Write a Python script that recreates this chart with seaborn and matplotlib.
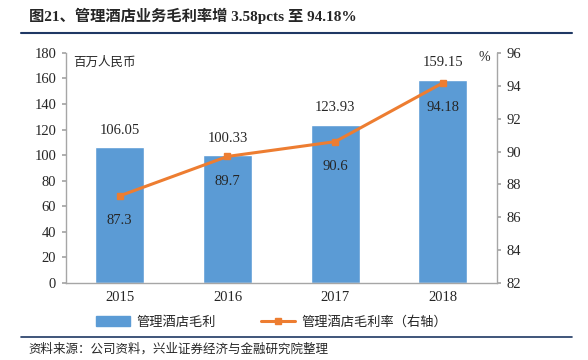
import numpy as np
import pandas as pd
import matplotlib
matplotlib.use("Agg")
import matplotlib.pyplot as plt
import seaborn as sns
from matplotlib.lines import Line2D
from matplotlib.patches import Patch

# 数据
years = ["2015", "2016", "2017", "2018"]
gross_profit = [106.05, 100.33, 123.93, 159.15]   # 百万人民币
margin = [87.3, 89.7, 90.6, 94.18]                # %

sns.set_theme(style="white")
plt.rcParams['font.family'] = ['Liberation Serif', 'Noto Sans CJK SC', 'DejaVu Sans']

bar_color = "#5B9BD5"
line_color = "#ED7D31"
axis_gray = "#A6A6A6"
navy = "#1F3864"

df = pd.DataFrame({"年份": years, "毛利": gross_profit, "毛利率": margin})

fig = plt.figure(figsize=(5.88, 3.6), dpi=100)
ax = fig.add_axes([0.112, 0.214, 0.733, 0.639])

sns.barplot(data=df, x="年份", y="毛利", color=bar_color, width=0.455,
            saturation=1, ax=ax)
ax.set_xlim(-0.5, 3.5)
ax.set_ylim(0, 180)
ax.set_yticks(np.arange(0, 181, 20))
ax.set_xlabel("")
ax.set_ylabel("")
for i, v in enumerate(gross_profit):
    ax.text(i, v + 8, f"{v:.2f}", ha="center", va="bottom", fontsize=10.5)

ax2 = ax.twinx()
ax2.plot(range(len(years)), margin, color=line_color, lw=2.2, marker="s",
         markersize=5)
ax2.set_ylim(82, 96)
ax2.set_yticks(np.arange(82, 97, 2))
for i, v in enumerate(margin):
    ax2.text(i, v - 1.1, f"{v:g}", ha="center", va="top", fontsize=10.5)

for a in (ax, ax2):
    a.spines["top"].set_visible(False)
    for s in ("left", "right", "bottom"):
        a.spines[s].set_color(axis_gray)
        a.spines[s].set_linewidth(1)
    a.tick_params(axis="y", length=3, color=axis_gray, labelsize=10.5, pad=4)
ax.spines["right"].set_visible(False)
ax2.spines["left"].set_visible(False)
ax2.spines["bottom"].set_visible(False)
ax.tick_params(axis="y", direction="out", left=True)
ax2.tick_params(axis="y", direction="out", right=True)

ax.set_xticks(range(len(years)))
ax.set_xticklabels(years, fontsize=10.5)
ax.tick_params(axis="x", length=0, pad=6)
ax.set_xticks([0.5, 1.5, 2.5], minor=True)
ax.tick_params(axis="x", which="minor", length=4, color=axis_gray, direction="out")

ax.text(0.018, 0.985, "百万人民币", transform=ax.transAxes, fontsize=9,
        ha="left", va="top")
ax2.text(0.985, 1.01, "%", transform=ax2.transAxes, fontsize=10,
         ha="right", va="top")

# 图例
handles = [Patch(facecolor=bar_color, edgecolor=bar_color),
           Line2D([0], [0], color=line_color, lw=2.2, marker="s", markersize=5)]
fig.legend(handles, ["管理酒店毛利", "管理酒店毛利率（右轴）"],
           loc="center", bbox_to_anchor=(0.462, 0.105), ncol=2, frameon=False,
           fontsize=9.5, handlelength=2.6, columnspacing=3.4, handletextpad=0.5)

# 标题与来源
fig.text(0.05, 0.955, "图21、管理酒店业务毛利率增 3.58pcts 至 94.18%",
         fontsize=11, fontweight="bold", ha="left", va="center")
fig.add_artist(Line2D([0.035, 0.973], [0.908, 0.908], color=navy, lw=1.5))
fig.add_artist(Line2D([0.035, 0.973], [0.064, 0.064], color=navy, lw=1.2))
fig.text(0.048, 0.030, "资料来源：公司资料，兴业证券经济与金融研究院整理",
         fontsize=9, ha="left", va="center")

fig.savefig("out.png", dpi=100)
